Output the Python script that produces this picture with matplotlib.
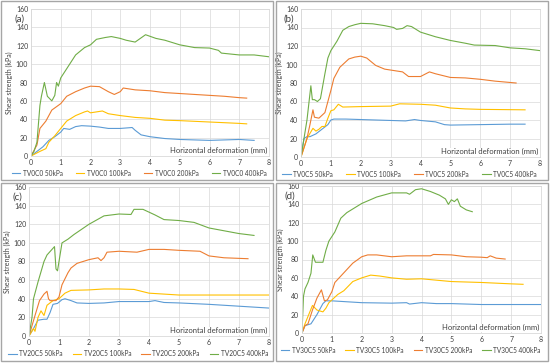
import matplotlib.pyplot as plt
from matplotlib.patches import Rectangle

plt.rcParams["font.family"] = ["Lato", "DejaVu Sans"]

# colours of the four normal stresses (Excel style)
colors = ["#5B9BD5", "#FFC000", "#ED7D31", "#70AD47"]
loads = ["50kPa", "100kPa", "200kPa", "400kPa"]

# ---- panel (a) TV0C0 ----
a50_x = [0, 0.2, 0.4, 0.6, 0.8, 1.0, 1.1, 1.3, 1.5, 1.7, 2.0, 2.3, 2.6, 3.0, 3.4, 3.5, 3.7, 4.0, 4.5, 5.0, 6.0, 7.0, 7.5]
a50_y = [0, 5, 10, 17, 21, 26, 30, 29, 32, 33, 32.5, 31.5, 30, 30, 31, 28, 23, 21, 19, 18, 17, 18, 17]
a100_x = [0, 0.3, 0.5, 0.6, 0.8, 1.0, 1.2, 1.5, 1.8, 1.9, 2.0, 2.2, 2.4, 2.6, 3.0, 3.5, 4.0, 4.5, 5.0, 6.0, 7.0, 7.25]
a100_y = [0, 5, 8, 15, 22, 30, 38, 44, 48, 49, 47, 48, 49, 46, 44, 42, 41, 39, 38.5, 37, 35.5, 35]
a200_x = [0, 0.2, 0.3, 0.5, 0.7, 1.0, 1.2, 1.5, 1.8, 2.0, 2.3, 2.6, 2.8, 3.0, 3.1, 3.5, 4.0, 4.5, 5.0, 5.5, 6.0, 6.5, 7.0, 7.25]
a200_y = [0, 12, 30, 38, 50, 57, 65, 70, 74, 76, 75.5, 70, 67, 70, 74, 72, 71, 69, 68, 67, 66, 65, 63.5, 63]
a400_x = [0, 0.1, 0.2, 0.3, 0.35, 0.45, 0.55, 0.7, 0.8, 0.86, 0.92, 1.0, 1.2, 1.5, 1.8, 2.0, 2.2, 2.5, 2.7, 3.0, 3.2, 3.5,
          3.85, 4.2, 4.5, 5.0, 5.5, 6.0, 6.3, 6.4, 7.0, 7.5, 8.0]
a400_y = [0, 5, 15, 55, 65, 80, 65, 60, 66, 80, 76, 85, 95, 110, 118, 121, 127, 129, 130, 128, 126, 124,
          132, 128, 126, 121, 118, 117.5, 115, 112, 110, 110, 108]

# ---- panel (b) TV0C5 ----
b50_x = [0, 0.1, 0.2, 0.3, 0.5, 0.7, 0.9, 1.0, 1.1, 1.5, 2.0, 3.0, 3.5, 3.8, 4.0, 4.5, 4.8, 5.0, 6.0, 7.0, 7.5]
b50_y = [0, 20, 22, 22, 25, 30, 35, 40, 41, 41, 40.5, 39.5, 39, 40.5, 39.5, 38, 35, 34.5, 35, 35.5, 35.5]
b100_x = [0, 0.2, 0.4, 0.5, 0.6, 0.7, 0.8, 0.9, 1.0, 1.1, 1.25, 1.4, 2.0, 3.0, 3.3, 4.0, 4.5, 5.0, 5.5, 6.0, 7.5]
b100_y = [0, 20, 31, 28, 30, 33, 33, 42, 50, 51, 57, 54, 54.5, 55, 57.5, 57, 56, 53, 52, 51.5, 51]
b200_x = [0, 0.2, 0.3, 0.4, 0.45, 0.6, 0.7, 0.8, 0.9, 1.0, 1.1, 1.3, 1.6, 1.8, 2.0, 2.2, 2.5, 2.8, 3.0, 3.4, 3.6, 4.0,
          4.3, 4.5, 5.0, 5.5, 6.0, 6.5, 7.2]
b200_y = [0, 20, 35, 51, 43, 42, 45, 48, 60, 72, 85, 97, 106, 108, 109, 107, 99, 95, 94, 92, 87, 87,
          92, 90, 86, 85.5, 84, 82, 80]
b400_x = [0, 0.1, 0.2, 0.33, 0.38, 0.45, 0.55, 0.65, 0.8, 0.9, 1.0, 1.2, 1.4, 1.6, 1.8, 2.0, 2.4, 2.8, 3.1, 3.2, 3.4,
          3.55, 3.7, 4.0, 4.5, 5.0, 5.5, 5.8, 6.5, 7.0, 7.5, 8.0]
b400_y = [0, 20, 40, 77, 62, 62, 60, 63, 90, 107, 115, 125, 137, 141, 143, 144.5, 144, 142, 140, 138, 139,
          142, 141, 135, 130, 126, 123, 121, 120.5, 118, 117, 115]

# ---- panel (c) TV20C5 ----
c50_x = [0, 0.15, 0.3, 0.5, 0.6, 0.7, 0.8, 0.95, 1.1, 1.2, 1.4, 1.6, 2.0, 2.5, 3.0, 3.5, 4.0, 4.2, 4.5, 5.0, 6.0, 7.0, 8.0]
c50_y = [0, 8, 17, 18, 18, 25, 34, 35, 39, 40, 38, 35.5, 35, 35.5, 37, 37, 37, 38, 36, 35.5, 34, 32, 30]
c100_x = [0, 0.15, 0.2, 0.3, 0.4, 0.5, 0.6, 0.8, 1.0, 1.2, 1.4, 2.0, 2.5, 3.0, 3.5, 4.0, 4.5, 5.0, 6.0, 7.0, 8.0]
c100_y = [0, 8, 5, 20, 27, 22, 33, 38, 40, 46, 49, 49.5, 50.5, 50.5, 50, 46, 45, 44, 44, 44, 44]
c200_x = [0, 0.2, 0.35, 0.5, 0.6, 0.65, 0.7, 0.9, 1.0, 1.1, 1.3, 1.4, 1.6, 2.0, 2.3, 2.4, 2.5, 2.6, 3.0, 3.6, 4.0, 4.5,
          5.0, 5.7, 6.0, 6.5, 7.3]
c200_y = [0, 22, 38, 45, 48, 40, 38, 38, 42, 55, 68, 73, 78, 82, 84, 81, 84, 90, 91, 90, 93, 93,
          92, 91, 86, 84, 83]
c400_x = [0, 0.1, 0.15, 0.3, 0.5, 0.6, 0.85, 0.9, 0.95, 1.0, 1.1, 1.3, 1.5, 2.0, 2.5, 3.0, 3.4, 3.5, 3.8, 4.0, 4.2,
          4.5, 5.0, 5.5, 6.0, 6.5, 7.0, 7.5]
c400_y = [0, 20, 40, 58, 80, 87, 96, 72, 70, 80, 100, 104, 109, 120, 129, 131, 130.5, 136, 136, 133, 130,
          125, 124, 122, 116, 113, 110, 108]

# ---- panel (d) TV30C5 ----
d50_x = [0, 0.1, 0.3, 0.5, 0.7, 0.8, 1.0, 1.5, 2.0, 3.0, 3.5, 3.6, 4.0, 4.5, 5.0, 6.0, 7.0, 8.0]
d50_y = [0, 8, 10, 20, 32, 35, 35, 34, 33, 32.5, 33, 31.5, 33, 32, 32, 31, 31, 31]
d100_x = [0, 0.1, 0.2, 0.35, 0.5, 0.7, 0.8, 0.9, 1.0, 1.2, 1.4, 1.7, 2.0, 2.3, 2.6, 3.0, 3.5, 4.0, 4.5, 5.0, 6.0, 7.0, 7.4]
d100_y = [0, 10, 18, 30, 25, 23, 27, 33, 36, 42, 46, 56, 60, 63, 62, 60, 58.5, 59, 57.5, 56, 55, 53.5, 53]
d200_x = [0, 0.1, 0.2, 0.35, 0.5, 0.65, 0.75, 0.85, 1.0, 1.1, 1.3, 1.5, 1.7, 2.0, 2.2, 2.5, 3.0, 3.5, 4.0, 4.3, 4.4,
          5.0, 5.5, 6.0, 6.2, 6.3, 6.5, 6.8]
d200_y = [0, 8, 10, 25, 38, 47, 35, 36, 45, 55, 62, 69, 76, 83, 85, 85, 83, 84, 84, 84, 85.5,
          85, 83, 82.5, 82, 84, 81.5, 80.5]
d400_x = [0, 0.05, 0.1, 0.2, 0.3, 0.36, 0.45, 0.7, 0.8, 0.9, 1.1, 1.3, 1.5, 2.0, 2.5, 3.0, 3.5, 3.6, 3.8, 4.0, 4.3,
          4.6, 4.8, 4.9, 5.0, 5.1, 5.2, 5.3, 5.5, 5.7]
d400_y = [0, 40, 48, 55, 65, 85, 77, 77, 90, 100, 110, 125, 131, 141, 148, 152.5, 152.5, 151, 156, 157, 154,
          150, 146, 140, 145, 143, 146, 138, 134, 132]

panels = [
    ("(a)", "TV0C0", [(a50_x, a50_y), (a100_x, a100_y), (a200_x, a200_y), (a400_x, a400_y)]),
    ("(b)", "TV0C5", [(b50_x, b50_y), (b100_x, b100_y), (b200_x, b200_y), (b400_x, b400_y)]),
    ("(c)", "TV20C5", [(c50_x, c50_y), (c100_x, c100_y), (c200_x, c200_y), (c400_x, c400_y)]),
    ("(d)", "TV30C5", [(d50_x, d50_y), (d100_x, d100_y), (d200_x, d200_y), (d400_x, d400_y)]),
]

W, H = 550, 363
# plot area (left, right, top, bottom) in pixels
areas = [(31, 269, 9, 156), (301, 540, 9, 157), (29, 269, 187, 336), (302, 541, 186, 333)]
# panel frames (left, top, right, bottom) in pixels
frames = [(1, 1, 273, 180), (276, 1, 548, 180), (1, 183, 273, 361), (276, 183, 548, 361)]
# legend column spacing per panel (longer names in the lower row)
col_space = [2.0, 2.0, 1.5, 1.5]

fig = plt.figure(figsize=(W / 100, H / 100), dpi=100)

for (l, t, r, b) in frames:
    fig.patches.append(Rectangle((l / W, 1 - b / H), (r - l) / W, (b - t) / H, transform=fig.transFigure,
                                 fill=False, edgecolor="#A6A6A6", linewidth=1.0))

for (tag, name, series), (l, r, t, b), cs in zip(panels, areas, col_space):
    ax = fig.add_axes([l / W, 1 - b / H, (r - l) / W, (b - t) / H])
    for (xs, ys), c, load in zip(series, colors, loads):
        ax.plot(xs, ys, color=c, linewidth=0.8, label=f"{name} {load}")
    ax.set_xlim(0, 8)
    ax.set_ylim(0, 160)
    ax.set_xticks(range(0, 9))
    ax.set_yticks(range(0, 161, 20))
    ax.tick_params(length=0, labelsize=5, labelcolor="#404040", pad=2)
    ax.grid(color="#D9D9D9", linewidth=0.5)
    ax.set_axisbelow(True)
    for s in ax.spines.values():
        s.set_color("#D9D9D9")
        s.set_linewidth(0.6)
    ax.set_ylabel("Shear strength (kPa)", fontsize=5, color="#404040", labelpad=2)
    ax.text(0.995, 0.012, "Horizontal deformation (mm)", transform=ax.transAxes, ha="right", va="bottom",
            fontsize=5.5, color="#404040",
            bbox=dict(facecolor="white", edgecolor="none", pad=0.3))
    ax.text(-0.05, 0.93, tag, transform=ax.transAxes, ha="center", va="center", fontsize=7, color="#404040")
    ax.legend(ncol=4, loc="upper center", bbox_to_anchor=(0.455, -0.075), frameon=False, fontsize=4.7,
              handlelength=1.3, columnspacing=cs, handletextpad=0.4, borderaxespad=0, labelcolor="#404040")

fig.savefig("out.png", dpi=100)
